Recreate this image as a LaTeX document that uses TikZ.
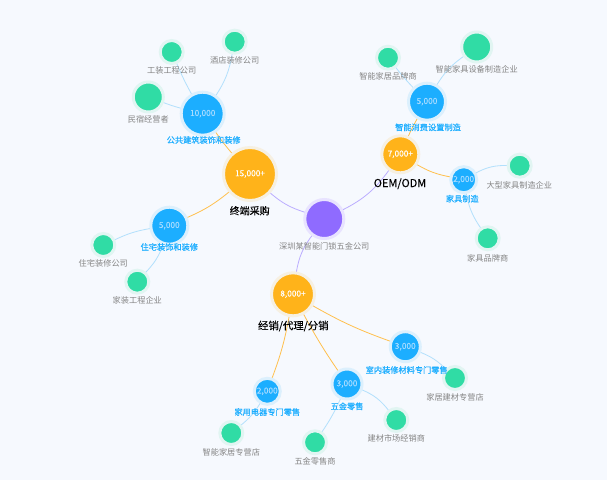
\documentclass[tikz,border=0pt]{standalone}
\usepackage{fontspec}
\setmainfont{Noto Sans CJK SC}
\newfontfamily\semifont[FakeBold=0.35]{Noto Sans CJK SC}
\newfontfamily\lightbold[FakeBold=0.15]{Noto Sans CJK SC}
\usetikzlibrary{positioning, backgrounds}
\definecolor{canvasbg}{HTML}{F6F9FE}
\definecolor{rootfill}{HTML}{8F6BFF}
\definecolor{rootring}{HTML}{E8E3FF}
\definecolor{rootedge}{HTML}{BBADFF}
\definecolor{termfill}{HTML}{FFB31A}
\definecolor{termring}{HTML}{F6F0E2}
\definecolor{termedge}{HTML}{FFC04D}
\definecolor{midfill}{HTML}{1CAEFF}
\definecolor{midring}{HTML}{DCF0FD}
\definecolor{midedge}{HTML}{B2E0FC}
\definecolor{midtext}{HTML}{A8DCFF}
\definecolor{leaffill}{HTML}{30DCA5}
\definecolor{leafring}{HTML}{E1F5F2}
\definecolor{leaftext}{HTML}{858585}
\tikzset{
  x=1pt, y=-1pt,
  every node/.style={inner sep=0pt, outer sep=0pt},
  rootnode/.style={circle, fill=rootfill, draw=rootring, line width=3pt, minimum size=#1},
  termnode/.style={circle, fill=termfill, draw=termring, line width=3pt, minimum size=#1,
    text=white, font=\fontsize{8.3}{8.3}\lightbold},
  midnode/.style={circle, fill=midfill, draw=midring, line width=3pt, minimum size=#1,
    text=midtext, font=\fontsize{8.3}{8.3}\lightbold},
  leafnode/.style={circle, fill=leaffill, draw=leafring, line width=3pt, minimum size=#1},
  rootline/.style={draw=rootedge, line width=0.8pt},
  termline/.style={draw=termedge, line width=0.8pt},
  midline/.style={draw=midedge, line width=0.8pt},
  termlabel/.style={text=black, font=\fontsize{10}{10}\lightbold},
  midlabel/.style={text=midfill, font=\fontsize{8.2}{8.2}\semifont},
  leaflabel/.style={text=leaftext, font=\fontsize{8.2}{8.2}\selectfont},
}
\begin{document}
\begin{tikzpicture}
\useasboundingbox (0,0) rectangle (607,480);
% main nodes
\node[rootnode=39pt] (root) at (324.3,219) {};
\node[termnode=53pt] (end) at (250,174) {15,000+};
\node[termnode=43pt] (sales) at (293,294.3) {8,000+};
\node[termnode=37pt] (oem) at (400.3,154.3) {7,000+};
% second level
\node[midnode=43pt] (public) at (202.7,113.7) {10,000};
\node[midnode=37pt] (home) at (169.3,225.7) {5,000};
\node[midnode=37pt] (smart) at (427,101.7) {5,000};
\node[midnode=26pt] (furn) at (463.7,179.7) {2,000};
\node[midnode=30pt] (deco) at (405.3,346.7) {3,000};
\node[midnode=30pt] (hard) at (347,384) {3,000};
\node[midnode=26pt] (elec) at (267.3,391.3) {2,000};
% leaves
\node[leafnode=23pt] (gz) at (171.7,52) {};
\node[leafnode=23pt] (hotel) at (234.7,41.7) {};
\node[leafnode=30pt] (bnb) at (148.3,97) {};
\node[leafnode=23pt] (brand) at (388,57.7) {};
\node[leafnode=30pt] (equip) at (476.7,47) {};
\node[leafnode=23pt] (large) at (519.7,165.7) {};
\node[leafnode=23pt] (fbrand) at (487.7,238.3) {};
\node[leafnode=23pt] (hdeco) at (103.3,245) {};
\node[leafnode=23pt] (hproj) at (137.3,281.7) {};
\node[leafnode=23pt] (bstore) at (455,378) {};
\node[leafnode=23pt] (bmkt) at (396.3,420) {};
\node[leafnode=23pt] (hshop) at (315,442.3) {};
\node[leafnode=23pt] (sstore) at (231.3,433) {};
% labels
\node[termlabel] (endl) at (249.7,210.7) {终端采购};
\node[termlabel, font=\fontsize{10.4}{10.4}\lightbold] (salesl) at (293.3,326) {经销/代理/分销};
\node[termlabel, font=\fontsize{11}{11}\lightbold] (oeml) at (400,183.7) {OEM/ODM};
\node[leaflabel] (rootl) at (324.3,246.3) {深圳某智能门锁五金公司};
\node[midlabel] (publicl) at (203.7,140) {公共建筑装饰和装修};
\node[midlabel] (homel) at (169.3,247) {住宅装饰和装修};
\node[midlabel] (smartl) at (428,127.3) {智能消费设置制造};
\node[midlabel] (furnl) at (462.3,198.7) {家具制造};
\node[midlabel] (decol) at (406.7,370) {室内装修材料专门零售};
\node[midlabel] (hardl) at (347,406.3) {五金零售};
\node[midlabel] (elecl) at (267.3,412) {家用电器专门零售};
\node[leaflabel] (gzl) at (171.7,70.7) {工装工程公司};
\node[leaflabel] (hotell) at (234.7,60.7) {酒店装修公司};
\node[leaflabel] (bnbl) at (148.3,119) {民宿经营者};
\node[leaflabel] (brandl) at (388,76.3) {智能家居品牌商};
\node[leaflabel] (equipl) at (476.7,69) {智能家具设备制造企业};
\node[leaflabel] (largel) at (519.3,185.7) {大型家具制造企业};
\node[leaflabel] (fbrandl) at (487.7,258) {家具品牌商};
\node[leaflabel] (hdecol) at (103.3,263.7) {住宅装修公司};
\node[leaflabel] (hprojl) at (137.3,300.7) {家装工程企业};
\node[leaflabel] (bstorel) at (455,397) {家居建材专营店};
\node[leaflabel] (bmktl) at (396.3,438.7) {建材市场经销商};
\node[leaflabel] (hshopl) at (315,461.3) {五金零售商};
\node[leaflabel] (sstorel) at (231.3,452) {智能家居专营店};
\begin{scope}[on background layer]
\fill[canvasbg] (0,0) rectangle (607,480);
\draw[rootline] (root) to[bend left=12] (end);
\draw[rootline] (root) to[bend right=14] (sales);
\draw[rootline] (root) to[bend right=14] (oem);
\draw[termline] (end) to[bend left=3] (public);
\draw[termline] (end) to[bend left=8] (home);
\draw[termline] (oem) to[bend left=3] (smart);
\draw[termline] (oem) to[bend right=10] (furn);
\draw[termline] (sales) to[bend right=5] (deco);
\draw[termline] (sales) to[bend right=3] (hard);
\draw[termline] (sales) to[bend left=5] (elec);
\draw[midline] (public) to[bend left=3] (gz);
\draw[midline] (public) to[bend right=12] (hotel);
\draw[midline] (public) to[bend left=3] (bnb);
\draw[midline] (smart) to[bend left=3] (brand);
\draw[midline] (smart) to[bend left=12] (equip);
\draw[midline] (furn) to[bend left=15] (large);
\draw[midline] (furn) to[bend right=12] (fbrand);
\draw[midline] (home) to[bend right=8] (hdeco);
\draw[midline] (home) to[bend left=12] (hproj);
\draw[midline] (deco) to[bend left=12] (bstore);
\draw[midline] (hard) to[bend left=15] (bmkt);
\draw[midline] (hard) to[bend left=5] (hshop);
\draw[midline] (elec) to[bend left=10] (sstore);
\end{scope}
\end{tikzpicture}
\end{document}
